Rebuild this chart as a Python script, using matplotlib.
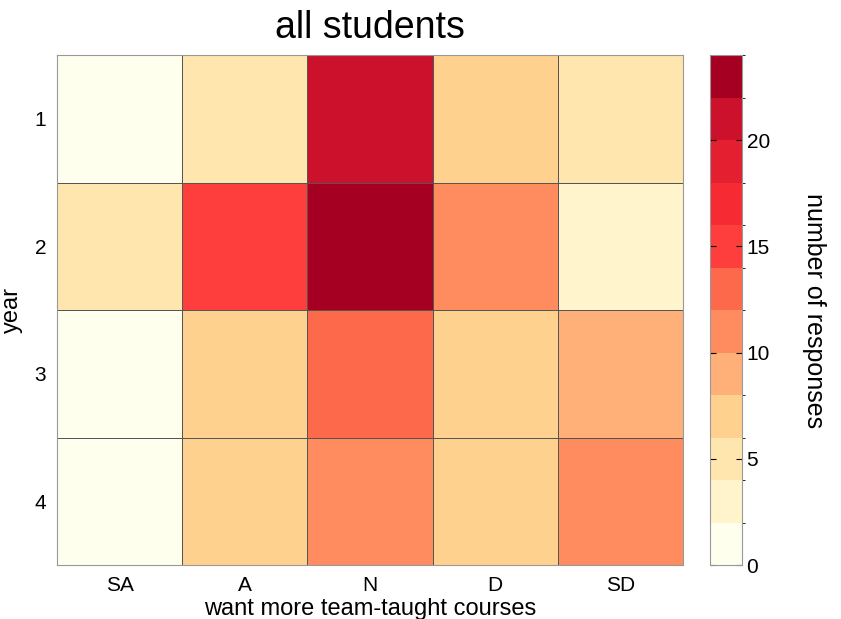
import numpy as np
import matplotlib
matplotlib.use("Agg")
import matplotlib.pyplot as plt
from matplotlib.colors import ListedColormap, BoundaryNorm

plt.rcParams['font.family'] = ['Liberation Sans', 'DejaVu Sans']

# survey answers (columns) by year of study (rows)
answers = ["SA", "A", "N", "D", "SD"]
years = ["1", "2", "3", "4"]
counts = [
    [1, 5, 21, 7, 5],
    [5, 15, 23, 11, 3],
    [1, 7, 13, 7, 9],
    [0, 7, 11, 7, 11],
]
levels = list(range(0, 26, 2))
cbar_ticks = [0, 5, 10, 15, 20]

# 12-step yellow-orange-red palette, sampled from the original
palette = ["#ffffee", "#fff4cc", "#fee6ae", "#fed18f", "#feb078", "#fe8c5e",
           "#fd6a4b", "#fe3e3c", "#f52a33", "#e41f2f", "#cc112d", "#a50022"]
cmap = ListedColormap(palette)
norm = BoundaryNorm(levels, cmap.N)

fig = plt.figure(figsize=(8.41, 6.19), dpi=100)
ax = fig.add_axes([0.068, 0.087, 0.744, 0.824])
cax = fig.add_axes([0.844, 0.087, 0.038, 0.824])

data = np.array(counts)
mesh = ax.pcolormesh(data, cmap=cmap, norm=norm, edgecolors="#555555", linewidth=0.6)
ax.set_xlim(0, len(answers))
ax.set_ylim(len(years), 0)
ax.set_xticks(np.arange(len(answers)) + 0.5)
ax.set_xticklabels(answers, fontsize=15)
ax.set_yticks(np.arange(len(years)) + 0.5)
ax.set_yticklabels(years, fontsize=15)
ax.tick_params(length=0, pad=8)
for s in ax.spines.values():
    s.set_color("#999999")
ax.set_xlabel("want more team-taught courses", fontsize=17, labelpad=2)
ax.set_ylabel("year", fontsize=17, labelpad=8)
ax.set_title("all students", fontsize=27, pad=12)

cb = fig.colorbar(mesh, cax=cax, boundaries=levels, ticks=cbar_ticks)
cb.ax.tick_params(labelsize=15, direction="in", length=4, width=0.8, right=True, left=True)
cb.outline.set_edgecolor("#999999")
cb.set_label("number of responses", fontsize=18, rotation=270, labelpad=40)

fig.savefig("out.png", dpi=100)
